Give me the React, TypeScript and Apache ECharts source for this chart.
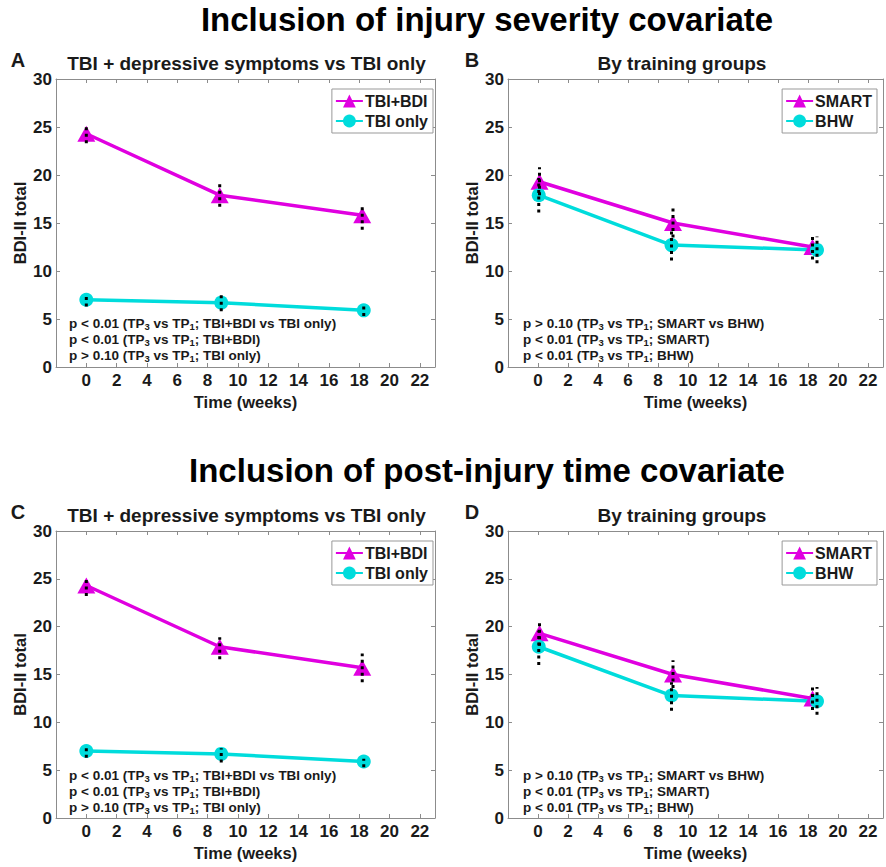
import React, { useEffect, useRef } from "react";
import * as echarts from "echarts";

// ---------- data ----------
const xTickLabels = [0, 2, 4, 6, 8, 10, 12, 14, 16, 18, 20, 22];
const yTickLabels = [0, 5, 10, 15, 20, 25, 30];

// Panel A (injury severity covariate)
const aWeeksBdi = [0, 8.8, 18.2];
const aWeeksTbi = [0, 8.9, 18.3];
const aTbiBdi = [24.3, 17.9, 15.8];
const aTbiBdiLow = [23.3, 16.7, 14.3];
const aTbiBdiHigh = [25.1, 19.1, 16.9];
const aTbiOnly = [7.0, 6.7, 5.9];
const aTbiOnlyLow = [6.3, 5.8, 5.3];
const aTbiOnlyHigh = [7.4, 7.6, 6.4];

// Panel B (injury severity covariate, training groups)
const bWeeksSmart = [0.1, 9.0, 18.3];
const bWeeksBhw = [0.05, 8.9, 18.6];
const bSmart = [19.3, 15.0, 12.5];
const bSmartLow = [17.9, 13.5, 11.2];
const bSmartHigh = [20.8, 16.5, 13.9];
const bBhw = [17.9, 12.7, 12.2];
const bBhwLow = [16.1, 11.1, 10.8];
const bBhwHigh = [19.7, 14.3, 13.6];

// Panel C (post-injury time covariate)
const cWeeksBdi = [0, 8.8, 18.2];
const cWeeksTbi = [0, 8.9, 18.3];
const cTbiBdi = [24.3, 17.9, 15.7];
const cTbiBdiLow = [23.2, 16.6, 14.2];
const cTbiBdiHigh = [24.9, 18.9, 17.2];
const cTbiOnly = [7.0, 6.7, 5.9];
const cTbiOnlyLow = [6.3, 5.8, 5.3];
const cTbiOnlyHigh = [7.6, 7.3, 6.2];

// Panel D (post-injury time covariate, training groups)
const dWeeksSmart = [0.1, 9.0, 18.3];
const dWeeksBhw = [0.05, 8.9, 18.6];
const dSmart = [19.3, 15.0, 12.5];
const dSmartLow = [18.0, 13.6, 11.3];
const dSmartHigh = [20.7, 16.5, 13.8];
const dBhw = [17.9, 12.8, 12.2];
const dBhwLow = [16.0, 11.2, 10.8];
const dBhwHigh = [19.6, 14.2, 13.7];

const mainTitles = [
  "Inclusion of injury severity covariate",
  "Inclusion of post-injury time covariate",
];
const panelLetters = ["A", "B", "C", "D"];
const panelTitles = [
  "TBI + depressive symptoms vs TBI only",
  "By training groups",
  "TBI + depressive symptoms vs TBI only",
  "By training groups",
];
const annotationsTbi = [
  "p < 0.01 (TP{s|3} vs TP{s|1}; TBI+BDI vs TBI only)",
  "p < 0.01 (TP{s|3} vs TP{s|1}; TBI+BDI)",
  "p > 0.10 (TP{s|3} vs TP{s|1}; TBI only)",
];
const annotationsTrain = [
  "p > 0.10 (TP{s|3} vs TP{s|1}; SMART vs BHW)",
  "p < 0.01 (TP{s|3} vs TP{s|1}; SMART)",
  "p < 0.01 (TP{s|3} vs TP{s|1}; BHW)",
];

// ---------- styling ----------
const MAGENTA = "#E000E0";
const CYAN = "#00DCDC";
const FONT = "Liberation Sans, Arial, sans-serif";
const TXT = "#1a1a1a";
const AXIS = "#8c8c8c";

const grids = [
  { left: 56, top: 79, width: 379, height: 288 },
  { left: 508, top: 79, width: 377, height: 288 },
  { left: 56, top: 531, width: 379, height: 287 },
  { left: 508, top: 531, width: 377, height: 287 },
];

const panels = [
  {
    names: ["TBI+BDI", "TBI only"],
    w1: aWeeksBdi, v1: aTbiBdi, l1: aTbiBdiLow, h1: aTbiBdiHigh,
    w2: aWeeksTbi, v2: aTbiOnly, l2: aTbiOnlyLow, h2: aTbiOnlyHigh,
    notes: annotationsTbi,
  },
  {
    names: ["SMART", "BHW"],
    w1: bWeeksSmart, v1: bSmart, l1: bSmartLow, h1: bSmartHigh,
    w2: bWeeksBhw, v2: bBhw, l2: bBhwLow, h2: bBhwHigh,
    notes: annotationsTrain,
  },
  {
    names: ["TBI+BDI", "TBI only"],
    w1: cWeeksBdi, v1: cTbiBdi, l1: cTbiBdiLow, h1: cTbiBdiHigh,
    w2: cWeeksTbi, v2: cTbiOnly, l2: cTbiOnlyLow, h2: cTbiOnlyHigh,
    notes: annotationsTbi,
  },
  {
    names: ["SMART", "BHW"],
    w1: dWeeksSmart, v1: dSmart, l1: dSmartLow, h1: dSmartHigh,
    w2: dWeeksBhw, v2: dBhw, l2: dBhwLow, h2: dBhwHigh,
    notes: annotationsTrain,
  },
];

function errRender(params: any, api: any) {
  const x = api.value(0);
  const p1 = api.coord([x, api.value(1)]);
  const p2 = api.coord([x, api.value(2)]);
  return {
    type: "line",
    shape: { x1: p1[0], y1: p1[1], x2: p2[0], y2: p2[1] },
    style: { stroke: "#000", lineWidth: 3, lineDash: [3, 3.5] },
  };
}

function buildOption() {
  const xAxes: any[] = [];
  const yAxes: any[] = [];
  const series: any[] = [];
  const legends: any[] = [];
  const graphics: any[] = [];

  const xLabelFmt = (v: number) => (xTickLabels.includes(v) ? String(v) : "");
  const yLabelFmt = (v: number) => (yTickLabels.includes(v) ? String(v) : "");

  grids.forEach((g, i) => {
    xAxes.push({
      type: "value", gridIndex: i, min: -2, max: 23, interval: 2, position: "bottom",
      name: "Time (weeks)", nameLocation: "middle", nameGap: 26,
      nameTextStyle: { fontFamily: FONT, fontWeight: "bold", fontSize: 16.5, color: TXT },
      axisLine: { show: true, onZero: false, lineStyle: { color: AXIS, width: 1 } },
      axisTick: { show: true, inside: true, length: 4, lineStyle: { color: AXIS } },
      axisLabel: { formatter: xLabelFmt, fontFamily: FONT, fontWeight: "bold", fontSize: 17, color: TXT, margin: 5 },
      splitLine: { show: false },
    });
    yAxes.push({
      type: "value", gridIndex: i, min: 0, max: 30, interval: 5, position: "left",
      name: "BDI-II total", nameLocation: "middle", nameGap: 28, nameRotate: 90,
      nameTextStyle: { fontFamily: FONT, fontWeight: "bold", fontSize: 16.5, color: TXT },
      axisLine: { show: true, onZero: false, lineStyle: { color: AXIS, width: 1 } },
      axisTick: { show: true, inside: true, length: 4, lineStyle: { color: AXIS } },
      axisLabel: { formatter: yLabelFmt, fontFamily: FONT, fontWeight: "bold", fontSize: 17, color: TXT, margin: 4 },
      splitLine: { show: false },
    });
  });
  grids.forEach((g, i) => {
    xAxes.push({
      type: "value", gridIndex: i, min: -2, max: 23, interval: 2, position: "top",
      axisLine: { show: true, onZero: false, lineStyle: { color: AXIS, width: 1 } },
      axisTick: { show: true, inside: true, length: 4, lineStyle: { color: AXIS } },
      axisLabel: { show: false }, splitLine: { show: false },
    });
    yAxes.push({
      type: "value", gridIndex: i, min: 0, max: 30, interval: 5, position: "right",
      axisLine: { show: true, onZero: false, lineStyle: { color: AXIS, width: 1 } },
      axisTick: { show: true, inside: true, length: 4, lineStyle: { color: AXIS } },
      axisLabel: { show: false }, splitLine: { show: false },
    });
  });

  panels.forEach((p, i) => {
    const base = { xAxisIndex: i, yAxisIndex: i };
    series.push({
      ...base, type: "line", name: p.names[0],
      data: p.w1.map((w, k) => [w, p.v1[k]]),
      symbol: "triangle", symbolSize: [18, 16],
      lineStyle: { color: MAGENTA, width: 3.5 },
      itemStyle: { color: MAGENTA },
      z: 2,
    });
    series.push({
      ...base, type: "line", name: p.names[1],
      data: p.w2.map((w, k) => [w, p.v2[k]]),
      symbol: "circle", symbolSize: 14,
      lineStyle: { color: CYAN, width: 3.5 },
      itemStyle: { color: CYAN },
      z: 2,
    });
    series.push({
      ...base, type: "custom", name: "err1-" + i,
      renderItem: errRender,
      data: p.w1.map((w, k) => [w, p.l1[k], p.h1[k]]),
      z: 5, silent: true,
    });
    series.push({
      ...base, type: "custom", name: "err2-" + i,
      renderItem: errRender,
      data: p.w2.map((w, k) => [w, p.l2[k], p.h2[k]]),
      z: 5, silent: true,
    });

    const g = grids[i];
    legends.push({
      data: p.names,
      orient: "vertical",
      right: i % 2 === 0 ? 453 : 9,
      top: g.top + 10,
      itemWidth: 27, itemHeight: 16, itemGap: 4,
      padding: [4, 5, 4, 3],
      borderColor: "#999", borderWidth: 1, backgroundColor: "#fff",
      selectedMode: false,
      textStyle: { fontFamily: FONT, fontWeight: "bold", fontSize: 16, color: TXT, padding: [0, 0, 0, -3] },
    });

    // annotations
    const noteX = i % 2 === 0 ? 69 : 523;
    const noteY0 = i < 2 ? 323.5 : 775.5;
    p.notes.forEach((t, k) => {
      graphics.push({
        type: "text", x: noteX, y: noteY0 + k * 16.2, z: 10,
        style: {
          text: t, fill: TXT, fontFamily: FONT, fontWeight: "bold", fontSize: 13.5,
          verticalAlign: "middle", align: "left",
          rich: { s: { fontSize: 9.5, fontWeight: "bold", fontFamily: FONT, fill: TXT, padding: [6, 0, 0, 0] } },
        },
      });
    });

    // panel letters & titles
    const titleY = i < 2 ? 63 : 515;
    graphics.push({
      type: "text", x: i % 2 === 0 ? 18 : 472, y: titleY - 3, z: 10,
      style: { text: panelLetters[i], fill: TXT, fontFamily: FONT, fontWeight: "bold", fontSize: 20, align: "center", verticalAlign: "middle" },
    });
    graphics.push({
      type: "text", x: i % 2 === 0 ? 246.5 : 682, y: titleY, z: 10,
      style: { text: panelTitles[i], fill: TXT, fontFamily: FONT, fontWeight: "bold", fontSize: 19, align: "center", verticalAlign: "middle" },
    });
  });

  mainTitles.forEach((t, k) => {
    graphics.push({
      type: "text", x: 487, y: k === 0 ? 19 : 470, z: 10,
      style: { text: t, fill: "#000", fontFamily: FONT, fontWeight: "bold", fontSize: 33, align: "center", verticalAlign: "middle" },
    });
  });

  return {
    animation: false,
    backgroundColor: "#fff",
    grid: grids.map((g) => ({ ...g, containLabel: false })),
    xAxis: xAxes,
    yAxis: yAxes,
    legend: legends,
    series,
    graphic: graphics,
  };
}

export default function App() {
  const ref = useRef<HTMLDivElement>(null);
  useEffect(() => {
    const chart = echarts.init(ref.current as HTMLDivElement, null, { renderer: "svg" });
    chart.setOption(buildOption() as any);
    return () => chart.dispose();
  }, []);
  return (
    <div
      ref={ref}
      style={{ position: "absolute", left: 0, top: 0, width: 886, height: 867, background: "#fff" }}
    />
  );
}
